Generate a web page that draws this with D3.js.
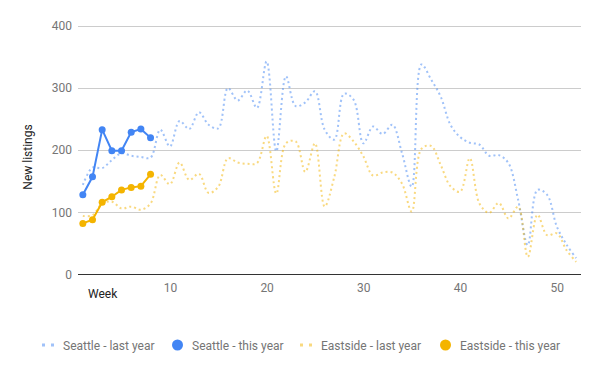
<!DOCTYPE html>
<html>
<head>
<meta charset="utf-8">
<script src="https://cdn.jsdelivr.net/npm/d3@7"></script>
<style>
  body { margin: 0; background: #fff; }
  svg { font-family: Roboto, "Noto Sans", sans-serif; }
</style>
</head>
<body>
<div id="chart"></div>
<script>
var width = 600;
var height = 371;

// weekly new listings
var seattleLast = [144, 172, 171, 184, 195, 191, 189, 188, 233, 206, 247, 234, 261, 241, 235, 300, 280, 296, 268, 343,
  198, 319, 271, 277, 295, 233, 217, 291, 281, 211, 238, 226, 241, 195, 141, 338, 314, 286, 241, 221,
  212, 209, 191, 192, 179, 120, 47, 136, 128, 77, 48, 26];
var eastsideLast = [94, 95, 114, 117, 106, 109, 104, 114, 160, 145, 180, 152, 162, 131, 141, 187, 180, 178, 179, 223,
  130, 211, 214, 165, 211, 109, 157, 227, 214, 190, 159, 164, 164, 146, 101, 202, 207, 176, 142, 133,
  187, 114, 99, 115, 90, 109, 28, 96, 63, 66, 39, 20];
var seattleThis = [128, 157, 233, 199, 199, 229, 234, 220];
var eastsideThis = [82, 88, 116, 125, 136, 140, 142, 161];

var yTicks = [0, 100, 200, 300, 400];
var xTicks = [10, 20, 30, 40, 50];

var seriesNames = ["Seattle - last year", "Seattle - this year", "Eastside - last year", "Eastside - this year"];
var blue = "#4285f4";
var yellow = "#f4b400";

var svg = d3.select("#chart")
    .append("svg")
    .attr("width", width)
    .attr("height", height);

var x = d3.scaleLinear().domain([0.5, 52.5]).range([78, 581]);
var y = d3.scaleLinear().domain([0, 400]).range([274.3, 26]);

// gridlines
svg.append("g").selectAll("line")
  .data(yTicks)
  .enter().append("line")
    .attr("x1", x.range()[0])
    .attr("x2", x.range()[1])
    .attr("y1", function(d) { return Math.round(y(d)) + 0.5; })
    .attr("y2", function(d) { return Math.round(y(d)) + 0.5; })
    .attr("stroke", function(d) { return d === 0 ? "#333" : "#ccc"; })
    .attr("stroke-width", 1);

// y axis labels
var yAxis = d3.axisLeft(y).tickValues(yTicks).tickSize(0).tickPadding(6);
var gy = svg.append("g").attr("transform", "translate(78,0)").call(yAxis);
gy.select(".domain").remove();
gy.selectAll("text").attr("font-size", 12).attr("fill", "#757575").attr("font-family", "Roboto");

var xAxis = d3.axisBottom(x).tickValues(xTicks).tickSize(0).tickPadding(9);
var gx = svg.append("g").attr("transform", "translate(0,274)").call(xAxis);
gx.select(".domain").remove();
gx.selectAll("text").attr("font-size", 12).attr("fill", "#757575").attr("font-family", "Roboto");

svg.append("text")
    .attr("transform", "translate(32,157) rotate(-90)")
    .attr("text-anchor", "middle")
    .attr("font-size", 12)
    .attr("fill", "#222")
    .text("New listings");

svg.append("text")
    .attr("x", 88)
    .attr("y", 298)
    .attr("font-size", 12)
    .attr("fill", "#222")
    .text("Week");

var smooth = d3.line()
    .x(function(d, i) { return x(i + 1); })
    .y(function(d) { return y(d); })
    .curve(d3.curveCatmullRom.alpha(0.5));

var straight = d3.line()
    .x(function(d, i) { return x(i + 1); })
    .y(function(d) { return y(d); });

function dotted(data, color) {
  svg.append("path")
      .attr("d", smooth(data))
      .attr("fill", "none")
      .attr("stroke", color)
      .attr("stroke-opacity", 0.5)
      .attr("stroke-width", 2)
      .attr("stroke-dasharray", "2,3");
}

function solid(data, color) {
  svg.append("path")
      .attr("d", straight(data))
      .attr("fill", "none")
      .attr("stroke", color)
      .attr("stroke-width", 2);
  svg.append("g").selectAll("circle")
    .data(data)
    .enter().append("circle")
      .attr("cx", function(d, i) { return x(i + 1); })
      .attr("cy", function(d) { return y(d); })
      .attr("r", 3.5)
      .attr("fill", color);
}

dotted(seattleLast, blue);
dotted(eastsideLast, yellow);
solid(seattleThis, blue);
solid(eastsideThis, yellow);

// legend
var legendX = [42, 172, 300, 440];
var legendColors = [blue, blue, yellow, yellow];
var legend = svg.append("g").selectAll("g")
  .data(seriesNames)
  .enter().append("g")
    .attr("transform", function(d, i) { return "translate(" + legendX[i] + ",345)"; });

legend.each(function(d, i) {
  var g = d3.select(this);
  if (i % 2 === 0) {
    g.append("rect").attr("x", 0).attr("y", -1.5).attr("width", 3).attr("height", 3)
      .attr("fill", legendColors[i]).attr("fill-opacity", 0.5);
    g.append("rect").attr("x", 9).attr("y", -1.5).attr("width", 3).attr("height", 3)
      .attr("fill", legendColors[i]).attr("fill-opacity", 0.5);
  } else {
    g.append("circle").attr("cx", 5.5).attr("cy", 0).attr("r", 5.5).attr("fill", legendColors[i]);
  }
  g.append("text")
      .attr("x", i % 2 === 0 ? 21 : 20)
      .attr("y", 4.5)
      .attr("font-size", 12)
      .attr("fill", "#757575")
      .text(d);
});
</script>
</body>
</html>
